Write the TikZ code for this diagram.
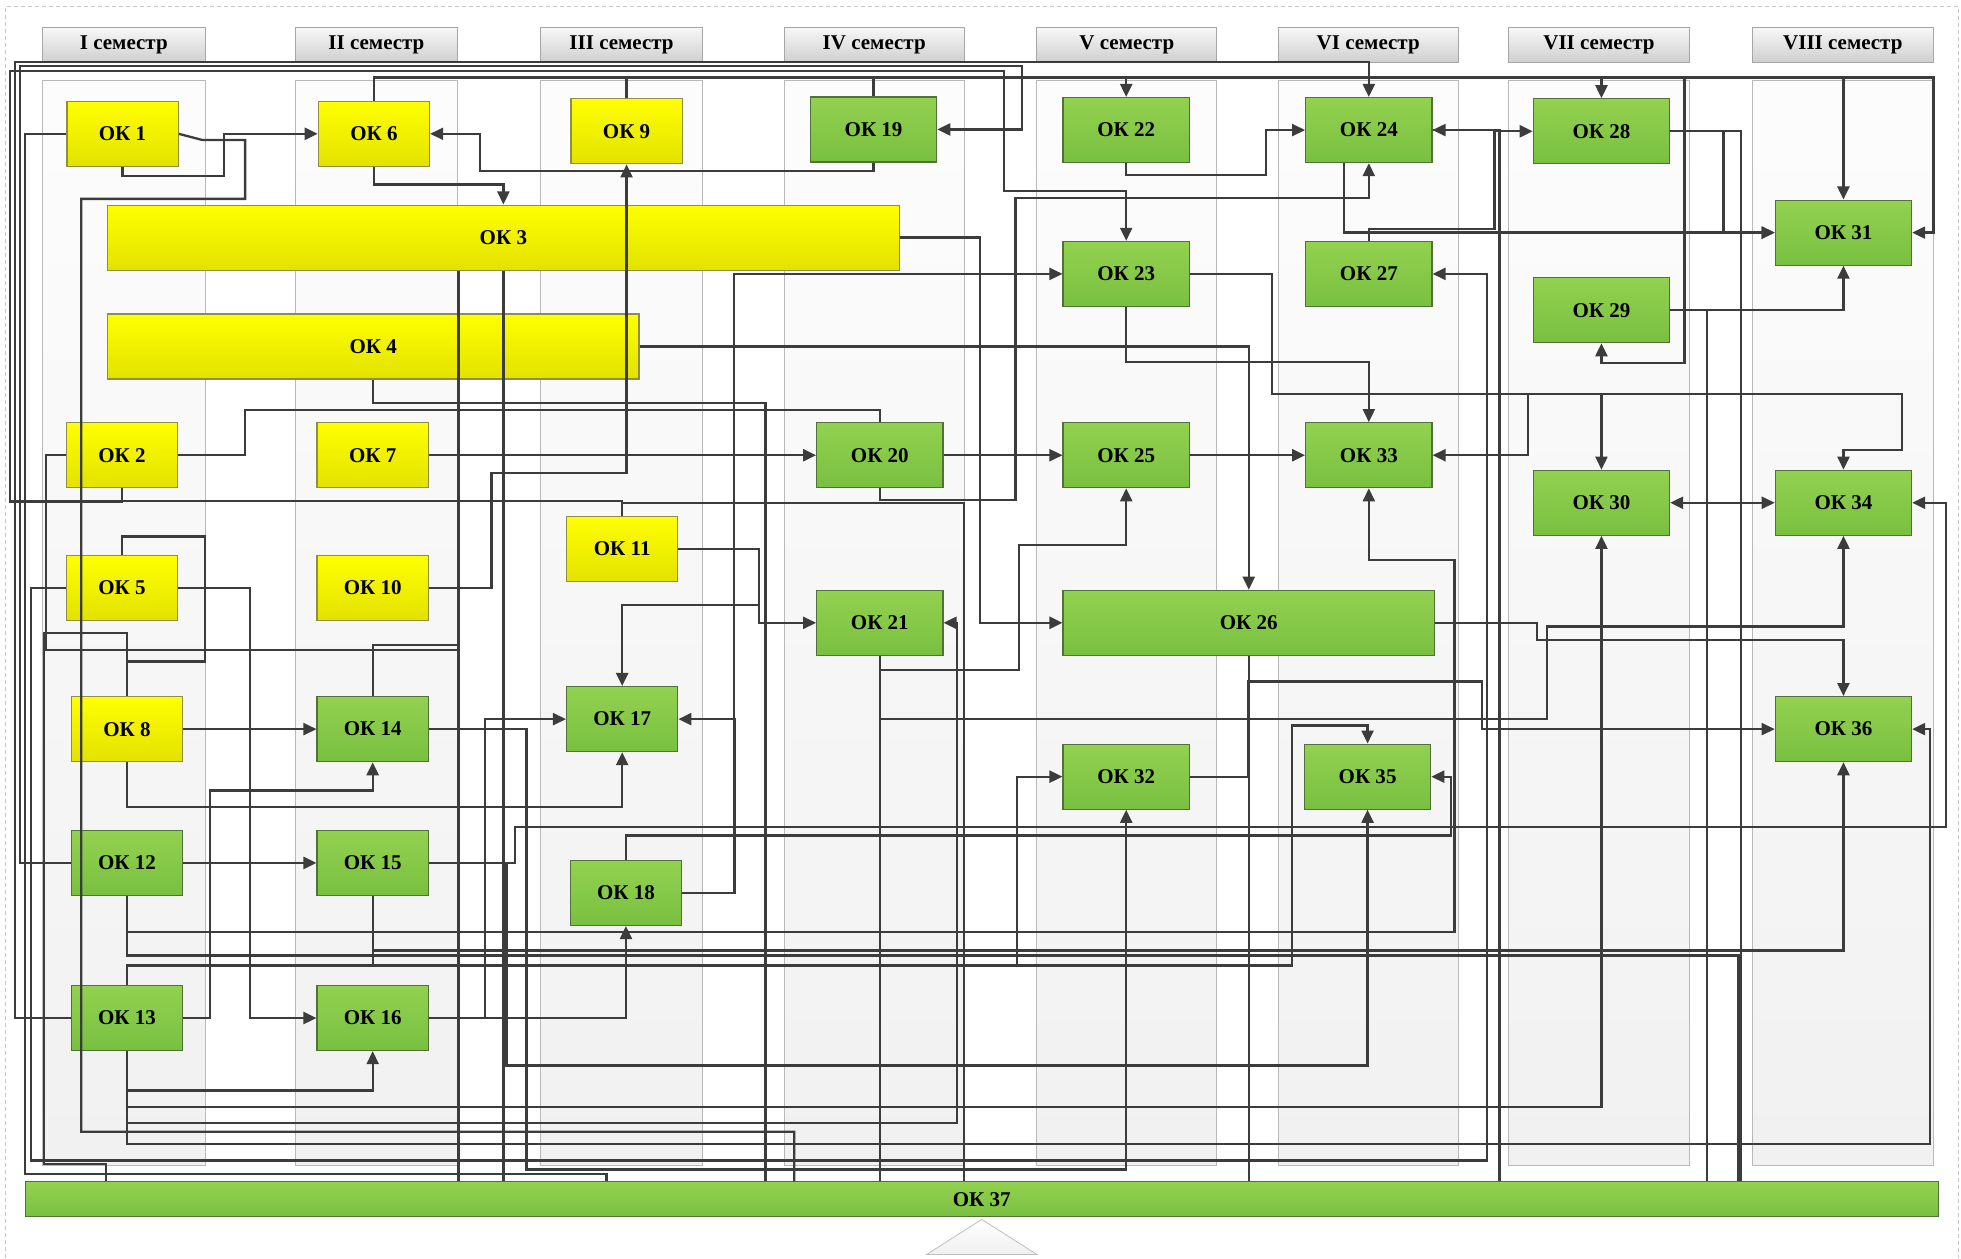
\documentclass[tikz,border=0pt]{standalone}
\usepackage{fontspec}
\setmainfont{Liberation Serif}
\usetikzlibrary{arrows.meta,calc}

\definecolor{wirecol}{HTML}{3C3C3C}
\definecolor{yeltop}{HTML}{FFFF00}
\definecolor{yelbot}{HTML}{E2E200}
\definecolor{yeledge}{HTML}{8E8E48}
\definecolor{grntop}{HTML}{93D150}
\definecolor{grnbot}{HTML}{79C040}
\definecolor{grnedge}{HTML}{51703A}

\tikzset{
  okbox/.style={rectangle, inner sep=0pt, minimum height=32.5pt, minimum width=55.6pt,
    font=\bfseries\fontsize{10.5}{12}\selectfont, line width=0.6pt},
  okyel/.style={okbox, top color=yeltop, bottom color=yelbot, draw=yeledge},
  okgrn/.style={okbox, top color=grntop, bottom color=grnbot, draw=grnedge},
  okmid/.style={okgrn, minimum width=63.1pt},
  okwide/.style={okgrn, minimum width=68.1pt},
  semhead/.style={rectangle, inner sep=0pt, minimum height=17.5pt, top color=gray!6,
    bottom color=gray!38, draw=gray!70, line width=0.6pt, font=\bfseries\fontsize{10.5}{12}\selectfont},
  colbg/.style={top color=gray!2, bottom color=gray!11, draw=gray!55, line width=0.5pt},
  wire/.style={draw=wirecol, line width=1.15pt},
  arr/.style={wire, -{Triangle[length=6.5pt,width=6pt]}},
  arrboth/.style={wire, {Triangle[length=6.5pt,width=6pt]}-{Triangle[length=6.5pt,width=6pt]}},
}

\begin{document}
\begin{tikzpicture}[x=0.625pt, y=-0.625pt] % {{{
\useasboundingbox (0,0) rectangle (1568,1006);
% Semesters {{{
\foreach \xl/\xr/\sem [count=\i] in {34/164/I, 236/366/II, 432/562/III, 627/771/IV,
    829/973/V, 1022/1166/VI, 1206/1351/VII, 1401/1546/VIII} {
  \pgfmathsetmacro{\colwd}{(\xr-\xl)*0.625}
  \path[colbg] (\xl,64) rectangle (\xr,932);
  \node[semhead, minimum width=\colwd pt] (sem\i) at ({(\xl+\xr)/2},36) {\sem{} семестр};
}
\draw[gray!45, dash pattern=on 2pt off 1.5pt, line width=0.4pt] (4,1006) -- (4,5) -- (1566,5) -- (1566,1006);
\path[draw=gray!50, top color=white, bottom color=gray!12] (785,975) -- (829,1003) -- (741,1003) -- cycle;
% }}}
% Yellow blocks {{{
\node[okyel] (ok1) at (98,107) {ОК 1};
\node[okyel] (ok2) at (97.5,364) {ОК 2};
\node[okyel, minimum width=395.6pt] (ok3) at (402.5,190) {ОК 3};
\node[okyel, minimum width=265.6pt] (ok4) at (298.5,277) {ОК 4};
\node[okyel] (ok5) at (97.5,470) {ОК 5};
\node[okyel] (ok6) at (299,107) {ОК 6};
\node[okyel] (ok7) at (298,364) {ОК 7};
\node[okyel] (ok8) at (101.5,583) {ОК 8};
\node[okyel] (ok9) at (501,105) {ОК 9};
\node[okyel] (ok10) at (298,470) {ОК 10};
\node[okyel] (ok11) at (497.5,439) {ОК 11};
% }}}
% Green blocks {{{
\node[okgrn] (ok12) at (101.5,690) {ОК 12};
\node[okgrn] (ok13) at (101.5,814) {ОК 13};
\node[okgrn] (ok14) at (298,583) {ОК 14};
\node[okgrn] (ok15) at (298,690) {ОК 15};
\node[okgrn] (ok16) at (298,814) {ОК 16};
\node[okgrn] (ok17) at (497.5,575) {ОК 17};
\node[okgrn] (ok18) at (500.5,714) {ОК 18};
\node[okmid] (ok19) at (698.5,103.5) {ОК 19};
\node[okmid] (ok20) at (703.5,364) {ОК 20};
\node[okmid] (ok21) at (703.5,498) {ОК 21};
\node[okmid] (ok22) at (900.5,104) {ОК 22};
\node[okmid] (ok23) at (900.5,219) {ОК 23};
\node[okmid] (ok24) at (1094.5,104) {ОК 24};
\node[okmid] (ok25) at (900.5,364) {ОК 25};
\node[okgrn, minimum width=185.6pt] (ok26) at (998.5,498) {ОК 26};
\node[okmid] (ok27) at (1094.5,219) {ОК 27};
\node[okwide] (ok28) at (1280.5,105) {ОК 28};
\node[okwide] (ok29) at (1280.5,248) {ОК 29};
\node[okwide] (ok30) at (1280.5,402) {ОК 30};
\node[okwide] (ok31) at (1474,186) {ОК 31};
\node[okmid] (ok32) at (900.5,621) {ОК 32};
\node[okmid] (ok33) at (1094.5,364) {ОК 33};
\node[okwide] (ok34) at (1474,402) {ОК 34};
\node[okmid] (ok35) at (1093.5,621) {ОК 35};
\node[okwide] (ok36) at (1474,583) {ОК 36};
\node[okgrn, minimum width=956pt, minimum height=17.5pt] (ok37) at (785,959) {ОК 37};
% }}}
% Links, top part {{{
\draw[arr] (ok1.south) |- (179,141) |- (ok6.west);
\draw[arr] (ok19.south) |- (384,137) |- (ok6.east);
\draw[arr] (ok6.south) -- ++(0,14) -| (ok3.north);
\draw[arr] (ok10.east) -| (393,378) -| (ok9.south);
\draw[arr] (ok12.west) -- (16,690) |- (817,53) |- (ok19.east);
\draw[arr] (ok13.west) -- (12,814) |- ($(ok24.north)+(0,-28)$) -- (ok24.north);
\draw[arr] (ok2.south) |- (8,401) |- (803,57) |- (900.5,153) -- (ok23.north);
\draw[arr] (ok6.north) -- (299,62) -| (ok22.north);
\draw[arr] (ok9.north) -- (501,62) -| (ok28.north);
\draw[arr] (ok9.north) -- (501,62) -| (1546,186) -- (ok31.east);
\draw[arr] (ok19.north) -- (698.5,62) -| (ok31.north);
\draw[arr] (ok19.north) -- (698.5,62) -| (1347,290) -| (ok29.south);
\draw[arr] (ok22.south) |- (1012,140) |- (ok24.west);
\draw[arr] (ok20.south) |- (812,400) |- ($(ok24.south)+(0,28)$) -- (ok24.south);
\draw[arr] (ok27.north) |- (1195,183) |- (ok24.east);
\draw[arr] (ok27.north) |- (1195,183) |- (ok28.west);
\draw[arr] (ok28.east) -- (1378,105) |- (ok31.west);
\draw[arr] ($(ok24.south)+(-20,0)$) |- (ok31.west);
\draw[arr] (ok29.east) -| (ok31.south);
\draw[arr] (ok3.east) -| ($(ok26.west)+(-66,0)$) -- (ok26.west);
\draw[arr] (ok4.east) -| (ok26.north);
\draw[arr] (ok18.east) -| (587,219) -- (ok23.west);
\draw[arr] (ok23.south) -- ++(0,44) -| (ok33.north);
\draw[arr] (ok23.east) -- (1017,219) |- (1222,315) |- (ok33.east);
\draw[arr] (ok23.east) -- (1017,219) |- (1521,315) -- (1521,360) -| (ok34.north);
\draw[arr] (ok23.east) -- (1017,219) |- (1280.5,315) -- (ok30.north);
% }}}
% Links, middle part {{{
\draw[arr] (ok7.east) -- (ok20.west);
\draw[arr] (ok20.east) -- (ok25.west);
\draw[arr] (ok25.east) -- (ok33.west);
\draw[arrboth] (ok30.east) -- (ok34.west);
\draw[arr] (ok11.east) -- (607,439) |- (ok21.west);
\draw[arr] (ok11.east) -| (607,484) -| (ok17.north);
\draw[arr] (ok21.south) |- (815,536) |- (900.5,436) -- (ok25.south);
\draw[arr] (ok21.south) |- (1237,575) |- (1474,501) -- (ok34.south);
\draw[arr] (ok26.east) -- (1229,498) |- (1474,512) -- (ok36.north);
\draw[arr] (ok32.east) -- (998,621) |- (1185,545) |- (ok36.west);
\draw[arr] (ok8.east) -- (ok14.west);
\draw[arr] (ok12.east) -- (ok15.west);
\draw[arr] (ok8.south) |- (497.5,645) -- (ok17.south);
\draw[arr] (ok18.east) -| ($(ok17.east)+(45,0)$) -- (ok17.east);
\draw[arr] (ok16.east) -| ($(ok17.west)+(-65,0)$) -- (ok17.west);
\draw[arr] (ok16.east) -| (ok18.south);
\draw[arr] (ok5.east) -| (200,814) -- (ok16.west);
\draw[arr] (ok13.east) -| (168,632) -| (ok14.south);
\draw[arr] (ok13.south) |- (298,872) -- (ok16.south);
\draw[arr] (ok18.north) |- (1160,668) |- (ok35.east);
\draw[arr] (ok15.east) -| (412,661) -| (1556,402) -- (ok34.east);
% }}}
% Links, bottom part {{{
\draw[arr] (ok12.south) |- (1163,745) |- (1094.5,448) -- (ok33.south);
\draw[arr] (ok15.south) |- (1474,760) -- (ok36.south);
\draw[arr] (ok15.south) |- (813,772) |- (ok32.west);
\draw[arr] (ok13.north) |- (1033,772) |- (1093.5,580) -- (ok35.north);
\draw[arr] (ok15.east) -| (405,852) -| (ok35.south);
\draw[arr] (ok13.south) |- (1280.5,885) -- (ok30.south);
\draw[arr] (ok13.south) |- (765,898) |- (ok21.east);
\draw[arr] (ok13.south) |- (1543,915) |- (ok36.east);
\draw[arr] (ok5.west) -- (25,470) |- (1189,928) |- (ok27.east);
\draw[arr] (ok14.east) -| (421,935) -| (ok32.south);
% }}}
% Links to OK 37 and plain links {{{
\draw[wire] (ok1.west) -- (20,107) |- ($(ok37.north)+(-300,-6)$) -- ($(ok37.north)+(-300,0)$);
\draw[wire] (ok1.east) -- (162,112) -| (196,159) -| (65,905) -| ($(ok37.north)+(-150,0)$);
\draw[wire] (ok2.east) -| (196,328) -| (ok20.north);
\draw[wire] (ok2.south) |- ($(ok11.north)+(0,-12)$) -- (ok11.north);
\draw[wire] (ok2.west) -- (37,364) |- (366.5,520);
\draw[wire] (ok5.north) |- (164,429) -- (164,529) -| (ok8.north);
\draw[wire] ($(ok3.south)+(-36,0)$) -- ($(ok37.north)+(-418.5,0)$);
\draw[wire] (ok3.south) -- ($(ok37.north)+(-382.5,0)$);
\draw[wire] (ok4.south) |- (612,322) -- ($(ok37.north)+(-173,0)$);
\draw[wire] (ok8.north) |- (35,506) |- ($(ok37.north)+(-700,-14)$) -- ($(ok37.north)+(-700,0)$);
\draw[wire] (ok11.north) |- (771,402) -- ($(ok37.north)+(-14,0)$);
\draw[wire] (ok14.north) |- (366.5,516);
\draw[wire] (ok12.south) |- (1390,764) -- ($(ok37.north)+(605,0)$);
\draw[wire] (ok21.south) -- ($(ok37.north)+(-81.5,0)$);
\draw[wire] (ok26.south) -- ($(ok37.north)+(213.5,0)$);
\draw[wire] (ok29.east) -- (1365,248) -- ($(ok37.north)+(580,0)$);
\draw[wire] (ok28.east) -- (1392,105) -- ($(ok37.north)+(607,0)$);
\draw[wire] (ok24.east) -- (1199,104) -- ($(ok37.north)+(414,0)$);
% }}}
\end{tikzpicture} % }}}
\end{document}
